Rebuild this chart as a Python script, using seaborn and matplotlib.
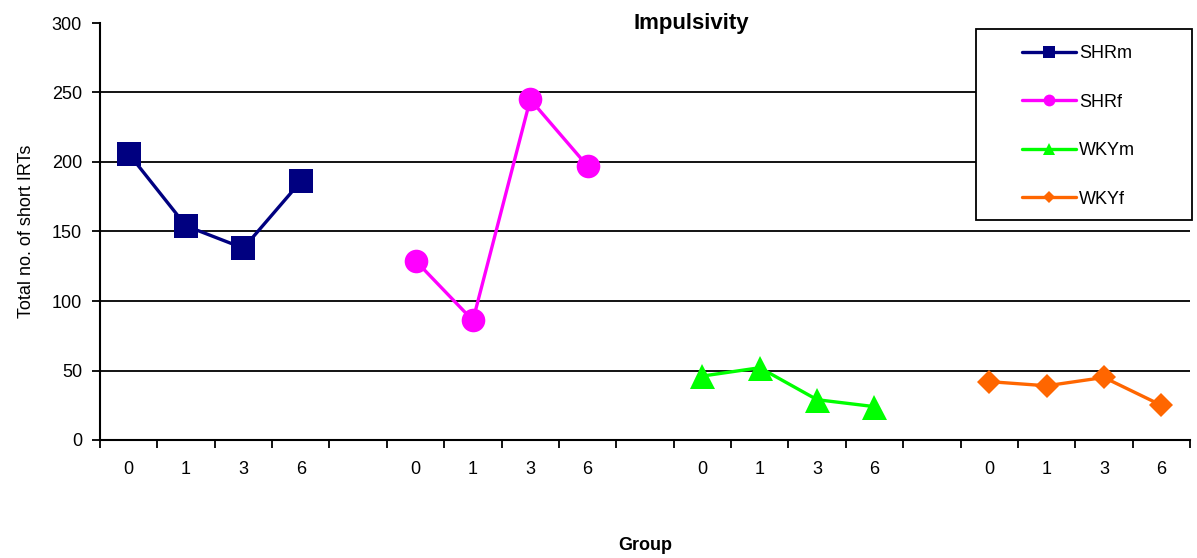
import numpy as np
import pandas as pd
import matplotlib
matplotlib.use("Agg")
import matplotlib.pyplot as plt
from matplotlib.patches import Rectangle
import seaborn as sns

# ---- data ----
series_names = ["SHRm", "SHRf", "WKYm", "WKYf"]
time_labels = ["0", "1", "3", "6"]
shrm_values = [206, 154, 138, 186]
shrf_values = [129, 86, 245, 197]
wkym_values = [46, 52, 29, 24]
wkyf_values = [42, 39, 45, 25]
y_ticks = [0, 50, 100, 150, 200, 250, 300]

series_values = [shrm_values, shrf_values, wkym_values, wkyf_values]
colors = {"SHRm": "#000080", "SHRf": "#FF00FF", "WKYm": "#00FF00", "WKYf": "#FF6600"}
markers = {"SHRm": "s", "SHRf": "o", "WKYm": "^", "WKYf": "D"}
msizes = {"SHRm": 17, "SHRf": 17, "WKYm": 18, "WKYf": 12.5}

# categorical slots: each group takes 4 slots, one blank slot between groups
n_t = len(time_labels)
rows = []
slot_labels = []
for gi, (name, vals) in enumerate(zip(series_names, series_values)):
    for ti, (t, v) in enumerate(zip(time_labels, vals)):
        slot = gi * (n_t + 1) + ti
        rows.append({"slot": slot, "value": v, "series": name, "time": t})
        slot_labels.append((slot, t))
df = pd.DataFrame(rows)
n_slots = len(series_names) * (n_t + 1) - 1

sns.set_theme(style="white")
plt.rcParams["font.family"] = ["Liberation Sans", "DejaVu Sans"]
for k in ["text.color", "axes.labelcolor", "xtick.color", "ytick.color"]:
    plt.rcParams[k] = "black"

fig = plt.figure(figsize=(11.97, 5.58), dpi=100)
ax = fig.add_axes([100 / 1197, 1 - 440 / 558, 1090 / 1197, 417 / 558])

for name in series_names:
    sub = df[df["series"] == name]
    sns.lineplot(data=sub, x="slot", y="value", ax=ax, color=colors[name],
                 marker=markers[name], markersize=msizes[name], linewidth=2.4,
                 markeredgewidth=0, label=name, legend=False)

ax.set_xlim(-0.5, n_slots - 0.5)
ax.set_ylim(0, 300)
ax.set_yticks(y_ticks)
ax.set_yticklabels([str(y) for y in y_ticks], fontsize=13)
for y in y_ticks[1:-1]:
    ax.axhline(y, color="black", linewidth=1.3, zorder=0.5)

# x: ticks at slot boundaries, labels at slot centres
ax.set_xticks(np.arange(-0.5, n_slots, 1.0))
ax.set_xticklabels([])
ax.set_xticks([s for s, _ in slot_labels], minor=True)
ax.set_xticklabels([t for _, t in slot_labels], minor=True, fontsize=13)
ax.tick_params(axis="x", which="major", direction="out", length=6, width=1.3,
               color="black", bottom=True)
ax.tick_params(axis="x", which="minor", length=0, pad=15, bottom=True)
ax.tick_params(axis="y", direction="out", length=6, width=1.3, color="black",
               left=True, pad=7)

for side in ["top", "right"]:
    ax.spines[side].set_visible(False)
for side in ["left", "bottom"]:
    ax.spines[side].set_color("black")
    ax.spines[side].set_linewidth(1.5)

ax.set_xlabel("")
ax.set_ylabel("Total no. of short IRTs", fontsize=13, labelpad=12)
fig.text(645 / 1197, 1 - 546 / 558, "Group", fontsize=13, fontweight="bold",
         ha="center", va="center")
fig.text(691 / 1197, 1 - 23 / 558, "Impulsivity", fontsize=16, fontweight="bold",
         ha="center", va="center")

# legend box
box = Rectangle((976 / 1197, 1 - 220 / 558), 216 / 1197, 191 / 558,
                transform=fig.transFigure, facecolor="white", edgecolor="black",
                linewidth=1.3, zorder=4, clip_on=False)
ax.add_patch(box)
leg = ax.legend(loc="upper left", bbox_to_anchor=(1022 / 1197, 1 - 45 / 558),
                bbox_transform=fig.transFigure, frameon=False,
                fontsize=13, labelspacing=1.75,
                handlelength=3.0, handletextpad=0.15, borderpad=0,
                markerscale=0.5, borderaxespad=0)
leg.set_zorder(5)

fig.savefig("out.png", dpi=100)
